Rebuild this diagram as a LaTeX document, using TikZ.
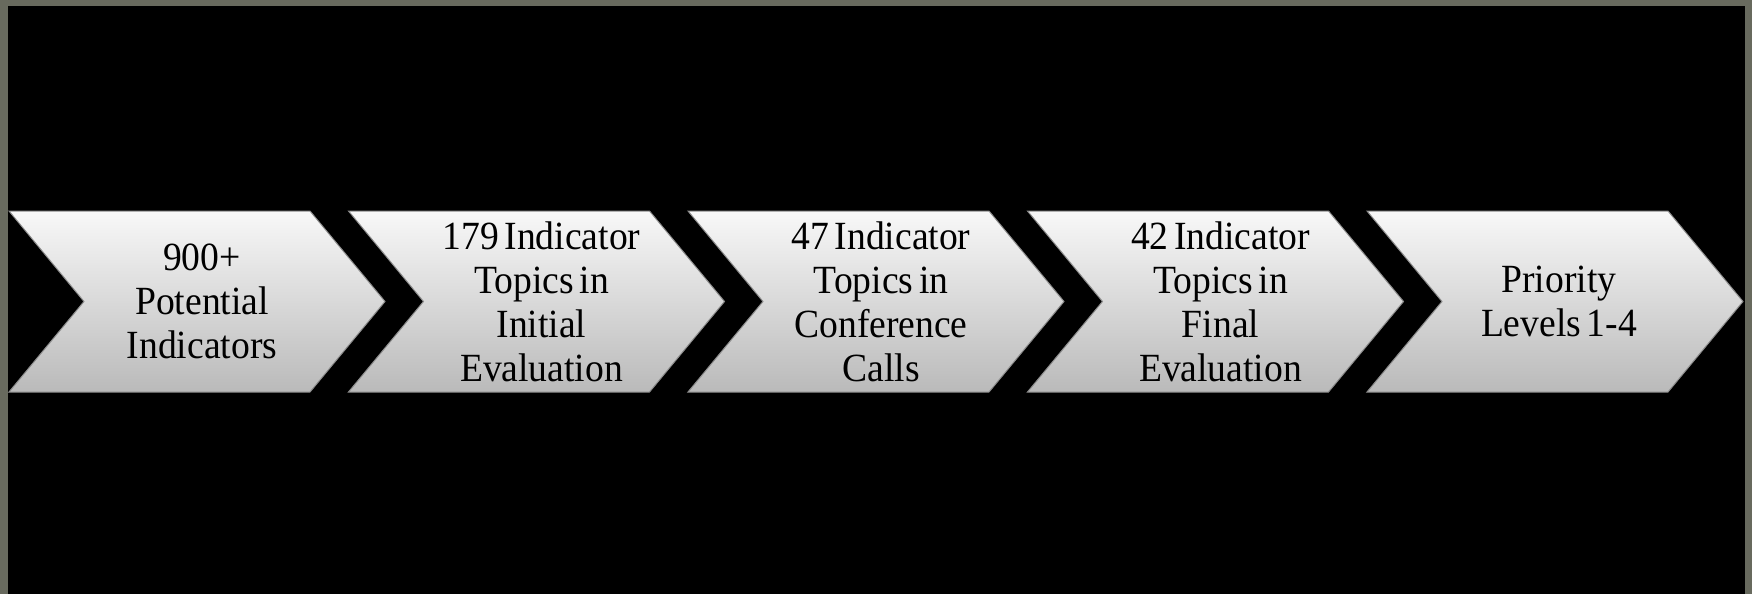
\documentclass[tikz,border=0pt]{standalone}
\usepackage{fontspec}
\setmainfont[FakeStretch=0.94,WordSpace=0.6]{Liberation Serif}
\definecolor{frame}{RGB}{104,106,94}
\definecolor{chtop}{RGB}{248,248,248}
\definecolor{chmid}{RGB}{228,228,228}
\definecolor{chbot}{RGB}{186,186,186}
\definecolor{chedge}{RGB}{140,140,140}
\tikzset{
  chev/.style={top color=chtop, middle color=chmid, bottom color=chbot, draw=chedge, line width=0.5pt, line join=miter},
  chevtext/.style={align=center, text=black, font=\fontsize{20}{22}\selectfont, inner sep=0pt}
}
\begin{document}
\begin{tikzpicture}[x=0.5pt,y=-0.5pt]
\useasboundingbox (0,0) rectangle (1752,594);
\fill[frame] (0,0) rectangle (1752,594);
\fill[black] (8,6) rectangle (1745,594);
\foreach \i in {0,...,4}{
  \pgfmathsetmacro{\L}{9+339.5*\i}
  \path[chev] (\L,211) -- ++(301,0) -- ++(75,90.5) -- ++(-75,90.5) -- ++(-301,0) -- ++(75,-90.5) -- cycle;
}
\node[chevtext] (c1) at (202,301.5) {900+\\Potential\\Indicators};
\node[chevtext] (c2) at (541.5,301.5) {179 Indicator\\Topics in\\Initial\\Evaluation};
\node[chevtext] (c3) at (881,301.5) {47 Indicator\\Topics in\\Conference\\Calls};
\node[chevtext] (c4) at (1220.5,301.5) {42 Indicator\\Topics in\\Final\\Evaluation};
\node[chevtext] (c5) at (1559,301.5) {Priority\\Levels 1-4};
\end{tikzpicture}
\end{document}
